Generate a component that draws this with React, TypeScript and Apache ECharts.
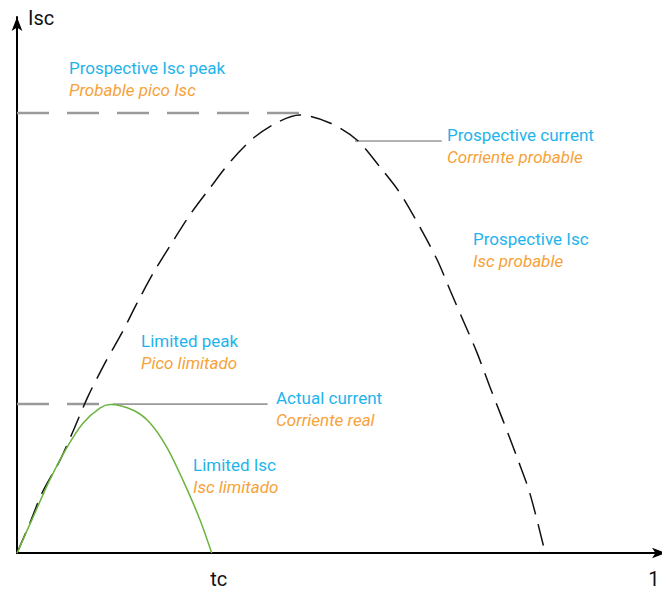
import React, { useEffect, useRef } from "react";
import * as echarts from "echarts";

// Prospective (unlimited) short-circuit current curve
const prospectiveX = [0, 0.02, 0.039, 0.067, 0.086, 0.11, 0.137, 0.163, 0.187, 0.212, 0.241, 0.269, 0.3, 0.334, 0.37, 0.406, 0.44, 0.487, 0.529, 0.565, 0.596, 0.627, 0.654, 0.674, 0.694, 0.716, 0.736, 0.756, 0.778, 0.798, 0.822];
const prospectiveY = [0, 0.068, 0.137, 0.212, 0.274, 0.356, 0.434, 0.502, 0.571, 0.639, 0.708, 0.772, 0.833, 0.897, 0.95, 0.984, 1.0, 0.982, 0.943, 0.881, 0.822, 0.744, 0.669, 0.6, 0.532, 0.457, 0.379, 0.304, 0.219, 0.137, 0];

// Limited (actual) current curve
const limitedX = [0, 0.025, 0.051, 0.078, 0.103, 0.129, 0.145, 0.181, 0.207, 0.233, 0.258, 0.285, 0.303];
const limitedY = [0, 0.082, 0.167, 0.242, 0.297, 0.331, 0.339, 0.326, 0.297, 0.242, 0.167, 0.075, 0];

// x-axis tick labels
const xTickValues = [0.314, 1];
const xTickLabels = ["tc", "1"];

// reference levels
const peakLevel = 1.005;
const peakLineX = [0, 0.443];
const actualLevel = 0.34;
const actualDashX = [0, 0.129];
const actualLeaderX = [0.149, 0.39];
const currentLevel = 0.941;
const currentLeaderX = [0.526, 0.661];

// annotation texts (English / Spanish)
const annotationsEn = ["Prospective Isc peak", "Prospective current", "Prospective Isc", "Limited peak", "Actual current", "Limited Isc"];
const annotationsEs = ["Probable pico Isc", "Corriente probable", "Isc probable", "Pico limitado", "Corriente real", "Isc limitado"];

const BLUE = "#1eb4ec";
const ORANGE = "#f7a239";
const GRAY = "#9a9a9a";

export default function App() {
  const ref = useRef<HTMLDivElement>(null);

  useEffect(() => {
    if (!ref.current) return;
    const chart = echarts.init(ref.current, null, { renderer: "svg" });

    const pairs = (xs: number[], ys: number[]) => xs.map((x, i) => [x, ys[i]]);
    const level = (xs: number[], y: number) => xs.map((x) => [x, y]);

    const annPos = [
      [69, 68],
      [447, 135],
      [473, 239],
      [141, 341],
      [276, 398],
      [193, 465],
    ];
    const graphics: any[] = [];
    annotationsEn.forEach((t, i) => {
      graphics.push({
        type: "text",
        x: annPos[i][0],
        y: annPos[i][1],
        style: { text: t, fill: BLUE, fontSize: 17, fontFamily: "Roboto", verticalAlign: "middle" },
      });
      graphics.push({
        type: "text",
        x: annPos[i][0],
        y: annPos[i][1] + 22,
        style: { text: annotationsEs[i], fill: ORANGE, fontSize: 17, fontFamily: "Roboto", fontStyle: "italic", verticalAlign: "middle" },
      });
    });

    chart.setOption({
      animation: false,
      grid: { left: 17, right: -4, top: 17, bottom: 37, containLabel: false, outerBoundsMode: "none" },
      xAxis: {
        type: "value",
        min: 0,
        max: 1.01,
        axisLine: { lineStyle: { color: "#000", width: 2 }, symbol: ["none", "arrow"], symbolSize: [8, 14] },
        axisTick: { show: false },
        splitLine: { show: false },
        axisLabel: {
          customValues: xTickValues,
          alignMaxLabel: "right",
          formatter: (v: number) => {
            const i = xTickValues.findIndex((t) => Math.abs(t - v) < 1e-6);
            return i >= 0 ? xTickLabels[i] : "";
          },
          color: "#111",
          fontSize: 20,
          fontFamily: "Roboto",
          margin: 16,
        },
      },
      yAxis: {
        type: "value",
        min: 0,
        max: 1.224,
        name: "Isc",
        nameLocation: "end",
        nameGap: -1,
        nameTextStyle: { color: "#111", fontSize: 20, fontFamily: "Roboto", align: "left", verticalAlign: "middle", padding: [0, 0, 0, 11] },
        axisLine: { show: true, lineStyle: { color: "#000", width: 2 }, symbol: ["none", "arrow"], symbolSize: [8, 14] },
        axisTick: { show: false },
        axisLabel: { show: false },
        splitLine: { show: false },
      },
      series: [
        {
          type: "line",
          data: level(peakLineX, peakLevel),
          symbol: "none",
          lineStyle: { color: GRAY, width: 2.5, type: [32, 18] },
          silent: true,
        },
        {
          type: "line",
          data: level(actualDashX, actualLevel),
          symbol: "none",
          lineStyle: { color: GRAY, width: 2.5, type: [32, 18] },
          silent: true,
        },
        {
          type: "line",
          data: level(actualLeaderX, actualLevel),
          symbol: "none",
          lineStyle: { color: GRAY, width: 1.6 },
          silent: true,
        },
        {
          type: "line",
          data: level(currentLeaderX, currentLevel),
          symbol: "none",
          lineStyle: { color: GRAY, width: 1.6 },
          silent: true,
        },
        {
          type: "line",
          name: "Prospective",
          data: pairs(prospectiveX, prospectiveY),
          symbol: "none",
          smooth: 0.3,
          lineStyle: { color: "#111", width: 1.5, type: [22, 10] },
        },
        {
          type: "line",
          name: "Limited",
          data: pairs(limitedX, limitedY),
          symbol: "none",
          smooth: 0.3,
          lineStyle: { color: "#6ab43e", width: 1.5 },
        },
      ],
      graphic: graphics,
    });

    return () => chart.dispose();
  }, []);

  return <div ref={ref} style={{ position: "fixed", left: 0, top: 0, width: 662, height: 590, background: "#fff" }} />;
}
